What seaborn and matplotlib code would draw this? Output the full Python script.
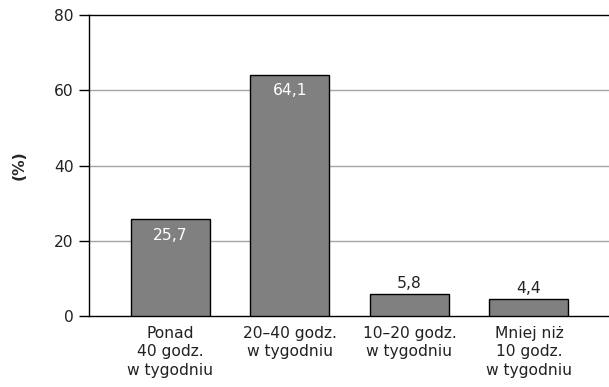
import matplotlib
matplotlib.use("Agg")
import matplotlib.pyplot as plt
import seaborn as sns
import pandas as pd

categories = ["Ponad\n40 godz.\nw tygodniu", "20–40 godz.\nw tygodniu",
              "10–20 godz.\nw tygodniu", "Mniej niż\n10 godz.\nw tygodniu"]
values = [25.7, 64.1, 5.8, 4.4]
value_labels = ["25,7", "64,1", "5,8", "4,4"]
inside = [True, True, False, False]
yticks = [0, 20, 40, 60, 80]

sns.set_theme(style="white")
plt.rcParams["font.family"] = ["DejaVu Sans"]

FS = 11.2
TXT = "#222222"

df = pd.DataFrame({"kat": categories, "val": values})

fig = plt.figure(figsize=(6.09, 3.87), dpi=100)
ax = fig.add_axes([89 / 609, 1 - 316 / 387, 1 - 89 / 609 + 0.002, (316 - 15) / 387])

sns.barplot(data=df, x="kat", y="val", color="#808080", saturation=1,
            width=0.66, edgecolor="black", linewidth=1.0, ax=ax, zorder=3)

ax.set_ylim(0, 80)
ax.set_xlim(-0.68, 3.68)
ax.set_yticks(yticks)
ax.set_yticklabels([str(t) for t in yticks], fontsize=FS, color=TXT)
ax.tick_params(axis="y", direction="out", length=7, width=1, color="black", pad=4, left=True)
ax.tick_params(axis="x", length=0, pad=7)
for lbl in ax.get_xticklabels():
    lbl.set_fontsize(FS)
    lbl.set_color(TXT)
    lbl.set_linespacing(1.3)
    lbl.set_horizontalalignment("center")

for y in yticks[1:-1]:
    ax.axhline(y, color="#a6a6a6", linewidth=1.0, zorder=1)

for side in ["left", "bottom", "top"]:
    ax.spines[side].set_visible(True)
    ax.spines[side].set_color("black")
    ax.spines[side].set_linewidth(1.0)
ax.spines["right"].set_visible(False)

ax.set_xlabel("")
ax.set_ylabel("(%)", fontsize=FS, fontweight="bold", labelpad=20)

for i, (v, t, ins) in enumerate(zip(values, value_labels, inside)):
    if ins:
        ax.annotate(t, (i, v), xytext=(0, -16), textcoords="offset pixels",
                    ha="center", va="center", color="white", fontsize=FS, zorder=4)
    else:
        ax.annotate(t, (i, v), xytext=(0, 11), textcoords="offset pixels",
                    ha="center", va="center", color=TXT, fontsize=FS, zorder=4)

fig.savefig("out.png", dpi=100)
